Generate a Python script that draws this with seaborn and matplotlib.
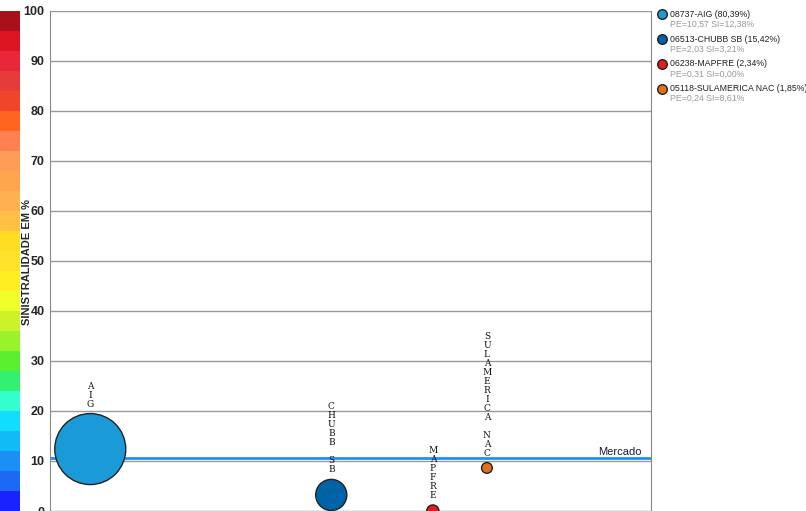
import matplotlib
matplotlib.use("Agg")
import matplotlib.pyplot as plt
import seaborn as sns
import numpy as np
import pandas as pd

# dados do gráfico
codigos = ["08737", "06513", "06238", "05118"]
nomes = ["AIG", "CHUBB SB", "MAPFRE", "SULAMERICA NAC"]
participacao = [80.39, 15.42, 2.34, 1.85]
pe = [10.57, 2.03, 0.31, 0.24]
si = [12.38, 3.21, 0.00, 8.61]
posicao_x = [6.7, 46.8, 63.7, 72.7]
cores = ["#1a9ad6", "#0063a6", "#e31b23", "#e07020"]
mercado = 10.5

# faixas da escala de cor (de 0 a 100, 4 em 4)
faixas = list(range(0, 100, 4))
cores_faixas = [
    "#1a22ff", "#1a6af5", "#1a8ff5", "#11bbf5", "#11ddff",
    "#33ffcc", "#33f070", "#5af030", "#99f22a", "#ccf22a",
    "#eeff2a", "#ffee22", "#ffe22a", "#ffdd22", "#ffc045",
    "#ffb050", "#ffa550", "#ff9c55", "#ff8050", "#ff6520",
    "#f0452a", "#e63b38", "#e8283a", "#dd1522", "#aa1019",
]

sns.set_style("white")
plt.rcParams["font.family"] = ["Liberation Sans Narrow", "Liberation Sans", "DejaVu Sans"]

df = pd.DataFrame({"nome": nomes, "x": posicao_x, "si": si, "pe": pe})

W, H = 806, 511
fig = plt.figure(figsize=(W / 100, H / 100), dpi=100)

y_top = 1 - 10.7 / H
ax_cb = fig.add_axes([0, 0.0, 20 / W, y_top], zorder=1)
ax = fig.add_axes([50 / W, 0.0, 601 / W, y_top], zorder=3)

# escala de cor à esquerda
ax_cb.bar(0, 4, bottom=faixas, width=1, align="edge", color=cores_faixas, linewidth=0)
ax_cb.set_xlim(0, 1)
ax_cb.set_ylim(0, 100)
ax_cb.axis("off")

# bolhas
s_max = 2612
sns.scatterplot(data=df, x="x", y="si", hue="nome", palette=dict(zip(nomes, cores)),
                size="pe", sizes=(0, s_max), size_norm=(0, max(pe)),
                edgecolor="#222222", linewidth=1, legend=False, ax=ax, zorder=3)

ax.axhline(mercado, color="#1e8fff", lw=2, zorder=2)
ax.text(0.985, mercado + 0.3, "Mercado", transform=ax.get_yaxis_transform(),
        ha="right", va="bottom", fontsize=8, color="#1a1a40",
        family=["Liberation Sans", "DejaVu Sans"])

# rótulos verticais acima das bolhas
for nome, x, y, p in zip(nomes, posicao_x, si, pe):
    s = p / max(pe) * s_max
    r_px = np.sqrt(s) / 2 * 100 / 72
    txt = "\n".join(list(nome))
    ax.annotate(txt, (x, y), xytext=(0, r_px + 5), textcoords="offset pixels",
                ha="center", va="bottom", fontsize=6.5, family="DejaVu Serif",
                linespacing=1.0, color="#111111", zorder=4)

ax.set_xlim(0, 100)
ax.set_ylim(0, 100)
ax.set_yticks(range(0, 101, 10))
ax.set_xticks([])
ax.grid(axis="y", color="#999999", lw=1)
ax.set_axisbelow(True)
ax.tick_params(axis="y", length=3, width=1, color="#888888", pad=1, labelsize=9)
for lab in ax.get_yticklabels():
    lab.set_fontweight("bold")
ax.set_xlabel("")
ax.set_ylabel("SINISTRALIDADE EM %", fontsize=8, fontweight="bold")
ax.yaxis.set_label_coords(-0.030, 0.497)
for side in ["left", "right"]:
    ax.spines[side].set_color("#888888")
ax.spines["top"].set_visible(False)
ax.spines["bottom"].set_color("#dddddd")

# legenda à direita
ax_leg = fig.add_axes([0, 0, 1, 1], zorder=-1)
ax_leg.set_xlim(0, W)
ax_leg.set_ylim(H, 0)
ax_leg.axis("off")
for i, (cod, nome, part, p, sv, c) in enumerate(zip(codigos, nomes, participacao, pe, si, cores)):
    yy = 14.3 + i * 24.8
    ax_leg.scatter(662, yy, s=48, color=c, edgecolor="#222222", linewidth=1)
    ax_leg.text(670, yy, f"{cod}-{nome} ({part:.2f}%)".replace(".", ","),
                va="center", ha="left", fontsize=6.3, color="#222222",
                family=["Liberation Sans", "DejaVu Sans"])
    ax_leg.text(670, yy + 10, f"PE={p:.2f} SI={sv:.2f}%".replace(".", ","),
                va="center", ha="left", fontsize=6.3, color="#999999",
                family=["Liberation Sans", "DejaVu Sans"])

fig.savefig("out.png", dpi=100)
